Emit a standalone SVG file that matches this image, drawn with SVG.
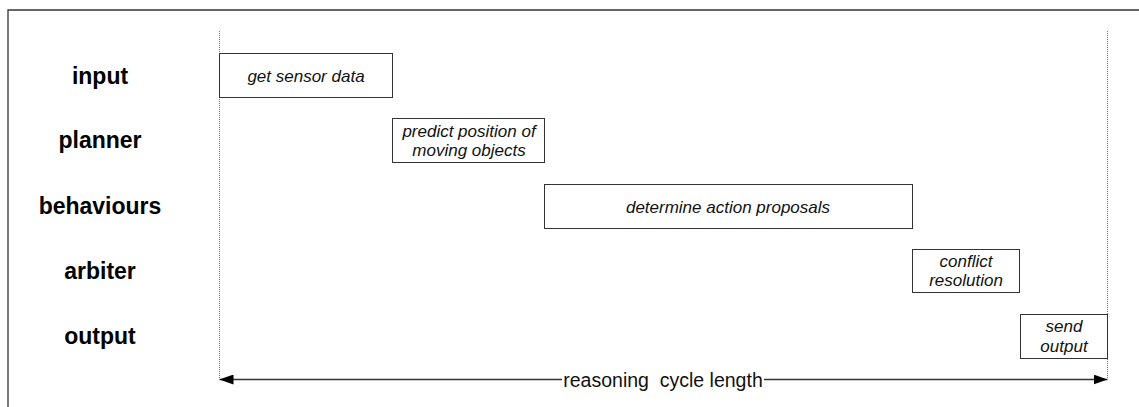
<svg xmlns="http://www.w3.org/2000/svg" width="1139" height="407" viewBox="0 0 1139 407">
  <style>
    .frame { fill: none; stroke: #333; stroke-width: 1.3; }
    .guide { fill: none; stroke: #777; stroke-width: 1; stroke-dasharray: 1 1; }
    .box { fill: #fff; stroke: #333; stroke-width: 1; }
    .lane { font-family: "Liberation Sans", Arial, sans-serif; font-size: 23px; font-weight: bold; fill: #000; text-anchor: middle; dominant-baseline: central; }
    .task { font-family: "Liberation Sans", Arial, sans-serif; font-size: 17px; font-style: italic; fill: #111; text-anchor: middle; dominant-baseline: central; }
    .axis { fill: none; stroke: #333; stroke-width: 1.3; }
    .axislabel { font-family: "Liberation Sans", Arial, sans-serif; font-size: 19.5px; fill: #111; text-anchor: middle; dominant-baseline: central; white-space: pre; }
  </style>
  <defs>
    <marker id="arrow" viewBox="0 0 14 10" refX="14" refY="5" markerWidth="14" markerHeight="10" markerUnits="userSpaceOnUse" orient="auto-start-reverse">
      <path d="M0,0 L14,5 L0,10 Z" fill="#000"/>
    </marker>
  </defs>
  <rect width="1139" height="407" fill="#fff"/>

  <!-- outer frame (top and left edges) -->
  <path class="frame" d="M8,407 V10 H1139"/>

  <!-- cycle start / end guides -->
  <line class="guide" x1="219.5" y1="31" x2="219.5" y2="379"/>
  <line class="guide" x1="1107.5" y1="31" x2="1107.5" y2="379"/>

  <!-- lane labels -->
  <g id="lane-input"><text class="lane" x="100" y="76">input</text></g>
  <g id="lane-planner"><text class="lane" x="100" y="140">planner</text></g>
  <g id="lane-behaviours"><text class="lane" x="100" y="206">behaviours</text></g>
  <g id="lane-arbiter"><text class="lane" x="100" y="271">arbiter</text></g>
  <g id="lane-output"><text class="lane" x="100" y="336">output</text></g>

  <!-- task boxes -->
  <g id="task-sensor">
    <rect class="box" x="219.5" y="53.5" width="173" height="44"/>
    <text class="task" x="306" y="76">get sensor data</text>
  </g>
  <g id="task-predict">
    <rect class="box" x="392.5" y="118.5" width="152" height="44"/>
    <text class="task" x="469" y="131">predict position of</text>
    <text class="task" x="469" y="150">moving objects</text>
  </g>
  <g id="task-proposals">
    <rect class="box" x="544.5" y="184.5" width="368" height="44"/>
    <text class="task" x="728" y="207">determine action proposals</text>
  </g>
  <g id="task-conflict">
    <rect class="box" x="912.5" y="249.5" width="107" height="43"/>
    <text class="task" x="966" y="261">conflict</text>
    <text class="task" x="966" y="280">resolution</text>
  </g>
  <g id="task-send">
    <rect class="box" x="1020.5" y="314.5" width="87" height="44"/>
    <text class="task" x="1064" y="326">send</text>
    <text class="task" x="1064" y="346">output</text>
  </g>

  <!-- cycle length dimension -->
  <g id="connectors">
    <line class="axis" x1="562" y1="379.5" x2="219.5" y2="379.5" marker-end="url(#arrow)"/>
    <line class="axis" x1="764" y1="379.5" x2="1107.5" y2="379.5" marker-end="url(#arrow)"/>
    <text class="axislabel" x="663" y="380">reasoning  cycle length</text>
  </g>
</svg>
